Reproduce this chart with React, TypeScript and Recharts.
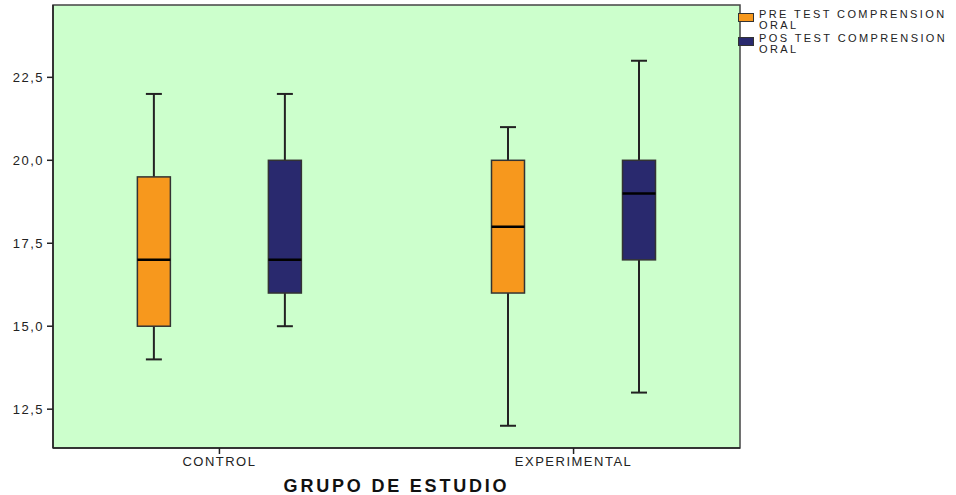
import React from 'react';
import { ComposedChart, Bar, XAxis, YAxis, ReferenceArea, Legend } from 'recharts';

if (typeof document !== 'undefined') document.body.style.margin = '0';

const groups = ['CONTROL', 'EXPERIMENTAL'];
const groupPos = [1, 2];
const seriesNames = ['PRE TEST COMPRENSION ORAL', 'POS TEST COMPRENSION ORAL'];
const seriesLines = [
  ['PRE TEST COMPRENSION', 'ORAL'],
  ['POS TEST COMPRENSION', 'ORAL'],
];
const seriesColors = ['#F7981D', '#29296E'];
// [min, q1, median, q3, max]
const preStats = [
  [14, 15, 17, 19.5, 22],
  [12, 16, 18, 20, 21],
];
const postStats = [
  [15, 16, 17, 20, 22],
  [13, 17, 19, 20, 23],
];
const yTicks = [12.5, 15, 17.5, 20, 22.5];
const yDomain = [11.33, 24.68];
const xDomain = [0.53, 2.47];

const data = groups.map((g, i) => ({ name: g, x: groupPos[i], pre: preStats[i], post: postStats[i] }));

const FONT = '"Liberation Sans", Arial, sans-serif';
const INK = '#222';

const makeBox = (key: 'pre' | 'post', color: string) => (props: any) => {
  const { x, y, width, height, payload } = props;
  const [mn, q1, md, q3, mx] = payload[key] as number[];
  const py = (v: number) => y + (height * (mx - v)) / (mx - mn);
  const cx = x + width / 2;
  const cap = 16;
  return (
    <g>
      <line x1={cx} x2={cx} y1={py(mx)} y2={py(q3)} stroke={INK} strokeWidth={2} />
      <line x1={cx} x2={cx} y1={py(q1)} y2={py(mn)} stroke={INK} strokeWidth={2} />
      <line x1={cx - cap / 2} x2={cx + cap / 2} y1={py(mx)} y2={py(mx)} stroke={INK} strokeWidth={2} />
      <line x1={cx - cap / 2} x2={cx + cap / 2} y1={py(mn)} y2={py(mn)} stroke={INK} strokeWidth={2} />
      <rect x={x} y={py(q3)} width={width} height={py(q1) - py(q3)} fill={color} stroke="#333" strokeWidth={1.5} />
      <line x1={x} x2={x + width} y1={py(md)} y2={py(md)} stroke="#000" strokeWidth={2.5} />
    </g>
  );
};

const LegendContent = () => (
  <div style={{ fontFamily: FONT, fontSize: 11, letterSpacing: 2.4, color: INK }}>
    {seriesLines.map((lines, i) => (
      <div key={i} style={{ position: 'relative', height: 22, marginBottom: 2, paddingLeft: 21 }}>
        <div
          style={{
            position: 'absolute',
            left: 0,
            top: 4,
            width: 16,
            height: 9,
            background: seriesColors[i],
            border: '1px solid #333',
            boxSizing: 'border-box',
          }}
        />
        {lines.map((l, j) => (
          <div key={j} style={{ lineHeight: '11px', height: 11, whiteSpace: 'nowrap' }}>
            {l}
          </div>
        ))}
      </div>
    ))}
  </div>
);

const fmt = (v: number) => v.toFixed(1).replace('.', ',');
const tickStyle = { fontFamily: FONT, fontSize: 13, fill: INK, letterSpacing: 1.5, style: { letterSpacing: 1.5 } };

export default function App() {
  return (
    <div style={{ width: 956, height: 495 }}>
      <ComposedChart
        width={956}
        height={495}
        data={data}
        margin={{ top: 5, right: 216, bottom: 0, left: 8 }}
        barGap={98}
      >
        <ReferenceArea
          x1={xDomain[0]}
          x2={xDomain[1]}
          y1={yDomain[0]}
          y2={yDomain[1]}
          fill="#CCFFCC"
          fillOpacity={1}
          stroke="#444"
          strokeWidth={1.5}
        />
        <XAxis
          dataKey="x"
          type="number"
          domain={xDomain}
          allowDataOverflow
          ticks={groupPos}
          tickFormatter={(v: number) => groups[groupPos.indexOf(v)] ?? ''}
          height={47}
          tickSize={6}
          tickMargin={3}
          axisLine={{ stroke: INK, strokeWidth: 1.5 }}
          tickLine={{ stroke: INK, strokeWidth: 1.5 }}
          tick={tickStyle}
          label={{
            value: 'GRUPO DE ESTUDIO',
            position: 'insideBottom',
            offset: 3,
            fill: '#111',
            fontSize: 18,
            fontWeight: 'bold',
            fontFamily: FONT,
            style: { letterSpacing: 2.8 },
          }}
        />
        <YAxis
          type="number"
          domain={yDomain}
          allowDataOverflow
          ticks={yTicks}
          tickFormatter={fmt}
          width={45}
          tickSize={6}
          tickMargin={3}
          axisLine={{ stroke: INK, strokeWidth: 1.5 }}
          tickLine={{ stroke: INK, strokeWidth: 1.5 }}
          tick={tickStyle}
        />
        <Legend
          layout="vertical"
          align="center"
          verticalAlign="middle"
          content={<LegendContent />}
          wrapperStyle={{ top: 9, left: 738, width: 218, height: 50 }}
        />
        <Bar
          name={seriesNames[0]}
          dataKey={(d: any) => [d.pre[0], d.pre[4]]}
          fill={seriesColors[0]}
          barSize={33}
          shape={makeBox('pre', seriesColors[0])}
          isAnimationActive={false}
        />
        <Bar
          name={seriesNames[1]}
          dataKey={(d: any) => [d.post[0], d.post[4]]}
          fill={seriesColors[1]}
          barSize={33}
          shape={makeBox('post', seriesColors[1])}
          isAnimationActive={false}
        />
      </ComposedChart>
    </div>
  );
}
